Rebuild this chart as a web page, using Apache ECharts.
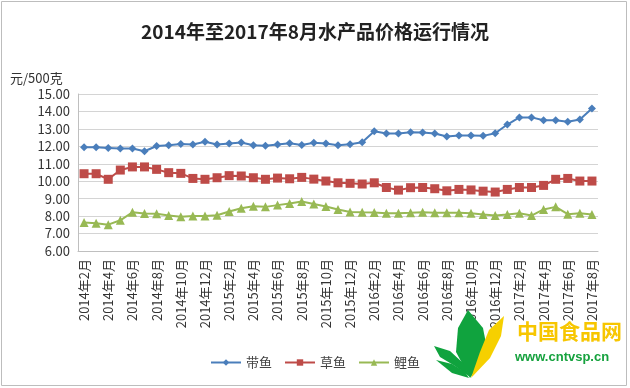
<!DOCTYPE html>
<html><head><meta charset="utf-8">
<script src="https://cdn.jsdelivr.net/npm/echarts@6/dist/echarts.min.js"></script>
<style>html,body{margin:0;padding:0;background:#fff}#c{width:630px;height:388px}</style>
</head><body><div id="c"></div>
<script>
var categories = ["2014年2月","2014年3月","2014年4月","2014年5月","2014年6月","2014年7月","2014年8月","2014年9月","2014年10月","2014年11月","2014年12月",
"2015年1月","2015年2月","2015年3月","2015年4月","2015年5月","2015年6月","2015年7月","2015年8月","2015年9月","2015年10月","2015年11月","2015年12月",
"2016年1月","2016年2月","2016年3月","2016年4月","2016年5月","2016年6月","2016年7月","2016年8月","2016年9月","2016年10月","2016年11月","2016年12月",
"2017年1月","2017年2月","2017年3月","2017年4月","2017年5月","2017年6月","2017年7月","2017年8月"];
var daiyu = [11.95,11.95,11.91,11.87,11.87,11.72,12.02,12.06,12.14,12.10,12.26,12.10,12.16,12.22,12.06,12.04,12.10,12.18,12.08,12.20,12.16,12.06,12.12,12.24,12.87,12.74,12.74,12.81,12.79,12.74,12.56,12.62,12.62,12.60,12.75,13.25,13.66,13.66,13.50,13.50,13.41,13.54,14.17];
var caoyu = [10.43,10.43,10.11,10.64,10.82,10.82,10.68,10.49,10.45,10.16,10.11,10.20,10.32,10.30,10.20,10.11,10.18,10.14,10.22,10.12,10.01,9.91,9.88,9.84,9.91,9.64,9.49,9.63,9.64,9.57,9.45,9.53,9.50,9.43,9.38,9.53,9.64,9.64,9.76,10.11,10.16,10.01,10.01];
var liyu = [7.63,7.59,7.51,7.76,8.22,8.15,8.13,8.03,7.96,8.01,8.01,8.05,8.26,8.45,8.57,8.53,8.63,8.72,8.84,8.70,8.55,8.38,8.24,8.22,8.21,8.17,8.17,8.19,8.22,8.19,8.19,8.19,8.17,8.09,8.03,8.09,8.17,8.03,8.38,8.53,8.11,8.17,8.09];
var seriesNames = ["带鱼","草鱼","鲤鱼"];
var colors = ["#4A7EBB","#BE4B48","#98B954"];
var font = "'Noto Sans CJK SC','Liberation Sans',sans-serif";
var chart = echarts.init(document.getElementById('c'), null, {renderer:'canvas'});
function s(name, data, color, symbol, size){
  return {name:name, type:'line', data:data, symbol:symbol, symbolSize:size, showSymbol:true, showAllSymbol:true,
    lineStyle:{color:color, width:2}, itemStyle:{color:color}, z:3};
}
chart.setOption({
  animation:false,
  title:{text:'2014年至2017年8月水产品价格运行情况', left:'center', top:17,
    textStyle:{fontFamily:font, fontSize:19, fontWeight:'bold', color:'#222'}},
  graphic:[
    {type:'rect', shape:{x:1.5,y:1.5,width:625,height:384}, style:{fill:'none', stroke:'#bdbdbd', lineWidth:1}, silent:true},
    {type:'text', x:10, y:72, style:{text:'元/500克', font:'13px '+font, fill:'#333'}},
    {type:'polygon', shape:{points:[[470,378],[456,352],[458,328],[468,310],[483,328],[488,354]]}, style:{fill:'#10A33E'}, z:10},
    {type:'polygon', shape:{points:[[471,378],[490,358],[501,336],[504,316],[489,330],[480,352]]}, style:{fill:'#F6D000'}, z:10},
    {type:'polygon', shape:{points:[[434,346],[450,351],[463,363],[470,377],[455,366],[440,357]]}, style:{fill:'#10A33E'}, z:10},
    {type:'polygon', shape:{points:[[436,360],[452,364],[465,372],[469,378],[452,373]]}, style:{fill:'#10A33E'}, z:10},
    {type:'text', x:517, y:321, style:{text:'中国食品网', font:'bold 21px '+font, fill:'#F7C600'}, z:10},
    {type:'text', x:515, y:351, style:{text:'www.cntvsp.cn', font:'bold 13px Arial,'+font, fill:'#16A23E'}, z:10}
  ],
  legend:{data:seriesNames, bottom:14, left:'center', itemWidth:30, itemHeight:8, itemGap:12,
    textStyle:{fontFamily:font, fontSize:13, color:'#444'}},
  grid:{left:78, right:32, top:94, bottom:137, containLabel:false},
  xAxis:{type:'category', data:categories, boundaryGap:true,
    axisLine:{lineStyle:{color:'#bfbfbf'}}, axisTick:{show:false},
    axisLabel:{interval:1, rotate:90, fontFamily:font, fontSize:13, color:'#333', margin:8}},
  yAxis:{type:'value', min:6, max:15, interval:1,
    axisLine:{show:true, lineStyle:{color:'#bfbfbf'}}, axisTick:{show:false},
    splitLine:{lineStyle:{color:'#d4d4d4', width:1}},
    axisLabel:{formatter:function(v){return v.toFixed(2);}, fontFamily:font, fontSize:13, color:'#333', margin:8}},
  series:[
    s(seriesNames[0], daiyu, colors[0], 'diamond', 8),
    s(seriesNames[1], caoyu, colors[1], 'rect', 9),
    s(seriesNames[2], liyu, colors[2], 'triangle', 9)
  ]
});
</script></body></html>
